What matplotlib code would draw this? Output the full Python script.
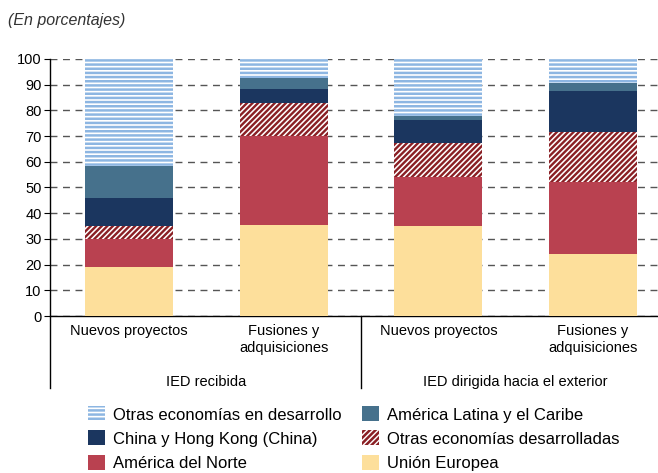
import matplotlib
matplotlib.use("Agg")
import matplotlib.pyplot as plt
from matplotlib.patches import Patch
from matplotlib.lines import Line2D

plt.rcParams['font.family'] = ['Liberation Sans', 'DejaVu Sans']

categories = ["Nuevos proyectos", "Fusiones y\nadquisiciones", "Nuevos proyectos", "Fusiones y\nadquisiciones"]
groups = ["IED recibida", "IED dirigida hacia el exterior"]
yticks = [0, 10, 20, 30, 40, 50, 60, 70, 80, 90, 100]

union_europea = [19.2, 35.5, 34.9, 24.1]
america_norte = [10.8, 34.7, 19.3, 28.2]
otras_desarrolladas = [5.0, 12.8, 13.1, 19.3]
china_hk = [10.8, 5.2, 9.1, 16.1]
america_latina = [12.6, 4.3, 1.3, 2.8]
otras_desarrollo = [41.6, 7.5, 22.3, 9.5]

W, H = 658, 473
fig = plt.figure(figsize=(W / 100, H / 100), dpi=100)
ax_left, ax_right, ax_bottom, ax_top = 50, 658, 316, 59
ax = fig.add_axes([ax_left / W, 1 - ax_bottom / H, (ax_right - ax_left) / W, (ax_bottom - ax_top) / H])

x = list(range(len(categories)))
width = 0.57

series = [
    ("Unión Europea", union_europea, dict(color="#FDDF9B")),
    ("América del Norte", america_norte, dict(color="#B94150")),
    ("Otras economías desarrolladas", otras_desarrolladas, dict(facecolor="white", edgecolor="#8A1F24", hatch="//////", linewidth=0, hlw=1.7)),
    ("China y Hong Kong (China)", china_hk, dict(color="#1B365F")),
    ("América Latina y el Caribe", america_latina, dict(color="#46718C")),
    ("Otras economías en desarrollo", otras_desarrollo, dict(facecolor="white", edgecolor="#8DB6E2", hatch="----", linewidth=0, hlw=1.8)),
]

handles = {}
bottom = [0.0] * len(x)
for name, vals, style in series:
    st = dict(style)
    hlw = st.pop("hlw", None)
    if hlw is not None:
        plt.rcParams['hatch.linewidth'] = hlw
    else:
        st.setdefault("linewidth", 0)
    ax.bar(x, vals, width, bottom=bottom, zorder=3, **st)
    if hlw is not None:
        handles[name] = Patch(facecolor="white", edgecolor=st["edgecolor"], hatch=st["hatch"], linewidth=0, label=name)
    else:
        handles[name] = Patch(facecolor=st["color"], linewidth=0, label=name)
    bottom = [b + v for b, v in zip(bottom, vals)]

ax.set_ylim(0, 100)
ax.set_xlim(-0.51, 3.42)
ax.set_yticks(yticks)
ax.tick_params(axis='y', labelsize=10.5, length=4, direction='out', colors='black', pad=2)
ax.set_xticks([])
for s in ['top', 'right']:
    ax.spines[s].set_visible(False)
ax.spines['left'].set_visible(False)
ax.spines['bottom'].set_linewidth(1.0)
ax.yaxis.grid(True, linestyle=(0, (5, 4)), color='#555555', linewidth=1.0, zorder=0)
ax.set_axisbelow(True)

# left axis line extended down, group separator
ax.add_line(Line2D([-0.51, -0.51], [100, -28.0], color='black', linewidth=1.0, clip_on=False, zorder=5))
ax.add_line(Line2D([1.5, 1.5], [0, -28.0], color='black', linewidth=1.0, clip_on=False, zorder=5))

for xi, cat in zip(x, categories):
    ax.text(xi, -3.3, cat, ha='center', va='top', fontsize=10.5, linespacing=1.2)
for gi, g in enumerate(groups):
    ax.text(0.5 + 2 * gi, -25.8, g, ha='center', va='center', fontsize=10.5)

fig.text(8 / W, 1 - 20 / H, "(En porcentajes)", fontsize=11.5, style='italic', color='#333333', va='center', ha='left')

order = ["Otras economías en desarrollo", "China y Hong Kong (China)", "América del Norte",
         "América Latina y el Caribe", "Otras economías desarrolladas", "Unión Europea"]
fig.legend(handles=[handles[n] for n in order], ncol=2, loc='upper left',
           bbox_to_anchor=(80 / W, 1 - 398 / H), frameon=False, fontsize=12,
           handlelength=1.0, handleheight=1.0, handletextpad=0.5, columnspacing=1.2,
           labelspacing=0.48, borderpad=0)

fig.savefig("out.png", dpi=100)
